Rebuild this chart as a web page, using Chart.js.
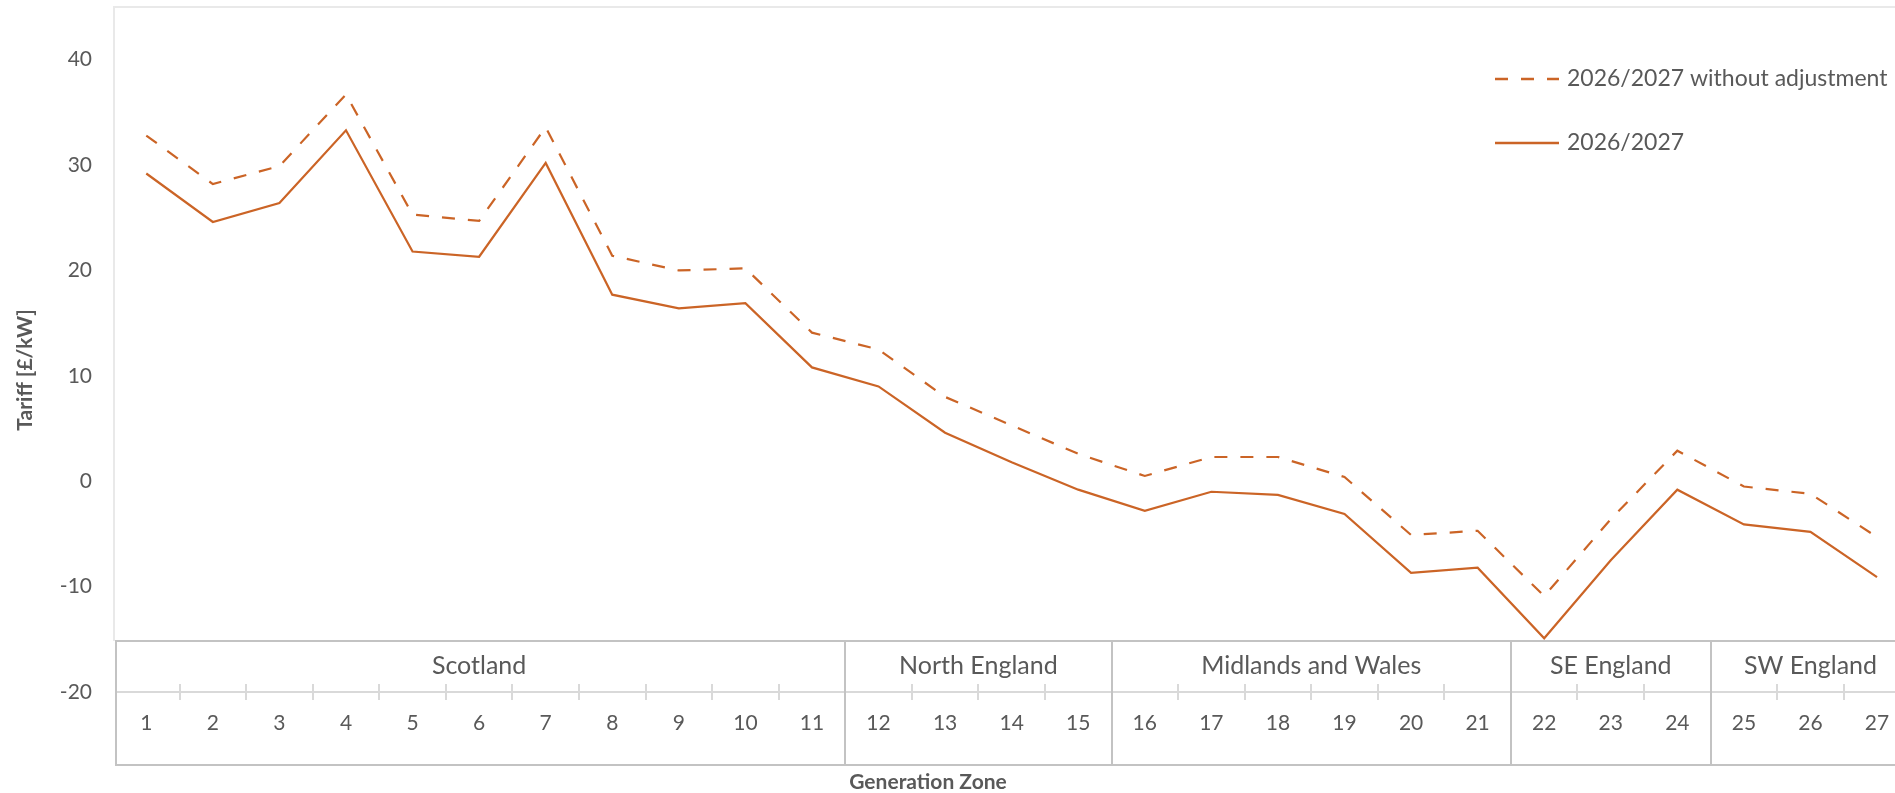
<!DOCTYPE html>
<html>
<head>
<meta charset="utf-8">
<script src="https://cdn.jsdelivr.net/npm/chart.js@4.4.1/dist/chart.umd.min.js"></script>
<style>
html,body{margin:0;padding:0;background:#ffffff;overflow:hidden}
#wrap{position:relative;width:1895px;height:793px}
</style>
</head>
<body>
<div id="wrap"><canvas id="c" width="1895" height="793"></canvas></div>
<script>
// ---- data ----
const zones = [1,2,3,4,5,6,7,8,9,10,11,12,13,14,15,16,17,18,19,20,21,22,23,24,25,26,27];
const withoutAdjustment = [32.8,28.2,29.9,36.7,25.3,24.7,33.6,21.4,20.0,20.2,14.1,12.5,8.0,5.3,2.6,0.5,2.3,2.3,0.4,-5.1,-4.7,-10.9,-3.6,2.9,-0.5,-1.2,-5.3];
const withAdjustment = [29.2,24.6,26.4,33.3,21.8,21.3,30.2,17.7,16.4,16.9,10.8,9.0,4.6,1.8,-0.8,-2.8,-1.0,-1.3,-3.1,-8.7,-8.2,-14.9,-7.5,-0.8,-4.1,-4.8,-9.1];
const seriesLabels = ['2026/2027 without adjustment','2026/2027'];
const yTicks = [-20,-10,0,10,20,30,40];
const groupNames = ['Scotland','North England','Midlands and Wales','SE England','SW England'];
const groupFirstZone = [1,12,16,22,25];
const groupLastZone = [11,15,21,24,27];
const xTitle = 'Generation Zone';
const yTitle = 'Tariff [£/kW]';

// ---- styling ----
const LINE = '#CB6426';
const TEXT = '#595959';
const FONT = 'Lato, "Open Sans", "Liberation Sans", sans-serif';
const DASH = [13, 13];

const decor = {
  id: 'decor',
  beforeDatasetsDraw(chart) {
    const {ctx, chartArea: ca} = chart;
    ctx.save();
    ctx.strokeStyle = '#E9E9E9';
    ctx.lineWidth = 2;
    ctx.beginPath();
    ctx.moveTo(ca.left + 1, 641);
    ctx.lineTo(ca.left + 1, ca.top);
    ctx.lineTo(ca.right + 5, ca.top);
    ctx.stroke();
    ctx.restore();
  },
  afterDraw(chart) {
    const {ctx, chartArea: ca, scales: {x}} = chart;
    const boxTop = 641, boxBottom = 765, axisY = ca.bottom;
    const boxLeft = ca.left + 3;
    const right = chart.width + 5;
    ctx.save();
    // axis line + tick marks
    ctx.strokeStyle = '#D9D9D9';
    ctx.lineWidth = 2;
    ctx.beginPath();
    ctx.moveTo(boxLeft, axisY); ctx.lineTo(right, axisY);
    const boundaries = groupLastZone.map(z => z + 0.5);
    zones.forEach(z => {
      const b = z + 0.5;
      if (boundaries.indexOf(b) === -1) {
        const px = Math.round(x.getPixelForValue(b));
        ctx.moveTo(px, axisY - 8); ctx.lineTo(px, axisY + 8);
      }
    });
    ctx.stroke();
    // box outline and group separators
    ctx.strokeStyle = '#C3C3C3';
    ctx.lineWidth = 2;
    ctx.beginPath();
    ctx.moveTo(right, boxTop); ctx.lineTo(boxLeft, boxTop); ctx.lineTo(boxLeft, boxBottom); ctx.lineTo(right, boxBottom);
    boundaries.forEach(b => {
      const px = Math.round(x.getPixelForValue(b));
      ctx.moveTo(px, boxTop); ctx.lineTo(px, boxBottom);
    });
    ctx.stroke();
    // group labels
    ctx.fillStyle = TEXT;
    ctx.font = '25px ' + FONT;
    ctx.textAlign = 'center';
    ctx.textBaseline = 'middle';
    groupNames.forEach((g, i) => {
      const cx = x.getPixelForValue((groupFirstZone[i] + groupLastZone[i]) / 2);
      ctx.fillText(g, cx, 666);
    });
    // axis titles
    ctx.font = 'bold 21px ' + FONT;
    ctx.fillText(xTitle, 928, 782);
    ctx.save();
    ctx.translate(25, 370);
    ctx.rotate(-Math.PI / 2);
    ctx.fillText(yTitle, 0, 0);
    ctx.restore();
    // legend
    const lx = 1495, lw = 64, tx = 1567;
    const rows = [79, 143];
    chart.data.datasets.forEach((ds, i) => {
      ctx.strokeStyle = ds.borderColor;
      ctx.lineWidth = 2.5;
      ctx.setLineDash(ds.borderDash || []);
      ctx.beginPath();
      ctx.moveTo(lx, rows[i]); ctx.lineTo(lx + lw, rows[i]);
      ctx.stroke();
      ctx.setLineDash([]);
      ctx.fillStyle = TEXT;
      ctx.font = '23px ' + FONT;
      ctx.textAlign = 'left';
      ctx.fillText(ds.label, tx, rows[i]);
    });
    ctx.restore();
  }
};

new Chart(document.getElementById('c'), {
  type: 'line',
  data: {
    datasets: [
      {
        label: seriesLabels[0],
        data: zones.map((z, i) => ({x: z, y: withoutAdjustment[i]})),
        borderColor: LINE, borderWidth: 2.2, borderDash: DASH,
        pointRadius: 0, tension: 0, fill: false
      },
      {
        label: seriesLabels[1],
        data: zones.map((z, i) => ({x: z, y: withAdjustment[i]})),
        borderColor: LINE, borderWidth: 2.2,
        pointRadius: 0, tension: 0, fill: false
      }
    ]
  },
  options: {
    responsive: false,
    animation: false,
    devicePixelRatio: 1,
    layout: {padding: {top: 7, right: 0, bottom: 0, left: 0}},
    plugins: {legend: {display: false}, tooltip: {enabled: false}},
    scales: {
      x: {
        type: 'linear',
        position: 'bottom',
        min: 0.5,
        max: 27.27,
        afterFit: s => { s.height = 101; s.paddingLeft = 0; s.paddingRight = 0; },
        afterBuildTicks: s => { s.ticks = zones.map(v => ({value: v})); },
        grid: {display: false, drawTicks: false},
        border: {display: false},
        ticks: {color: TEXT, font: {family: FONT, size: 21}, padding: 19, maxRotation: 0, autoSkip: false}
      },
      y: {
        min: -20,
        max: 45,
        afterFit: s => { s.width = 113; s.paddingTop = 0; s.paddingBottom = 0; },
        afterBuildTicks: s => { s.ticks = yTicks.map(v => ({value: v})); },
        grid: {display: false, drawTicks: false},
        border: {display: false},
        ticks: {color: TEXT, font: {family: FONT, size: 21}, padding: 21}
      }
    }
  },
  plugins: [decor]
});
</script>
</body>
</html>
